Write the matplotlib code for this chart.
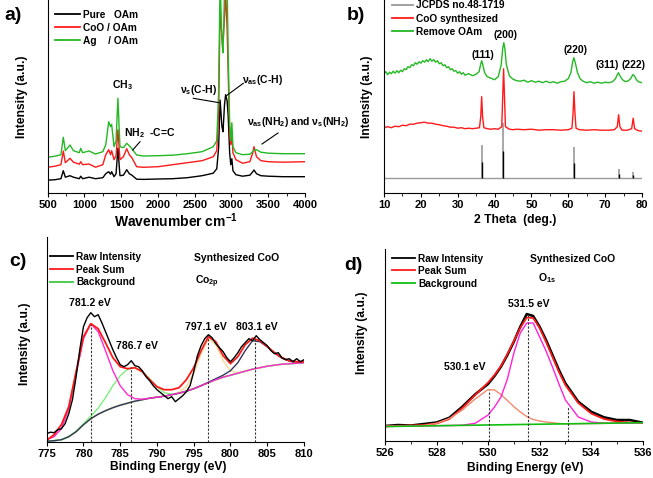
import matplotlib
matplotlib.use("Agg")
import matplotlib.pyplot as plt
import numpy as np
from matplotlib.lines import Line2D

plt.rcParams["font.family"] = "Liberation Sans"
plt.rcParams["font.weight"] = "bold"
plt.rcParams["mathtext.fontset"] = "custom"
plt.rcParams["mathtext.rm"] = "Liberation Sans:bold"
plt.rcParams["mathtext.it"] = "Liberation Sans:bold"
plt.rcParams["mathtext.bf"] = "Liberation Sans:bold"
plt.rcParams["mathtext.default"] = "regular"

# ---- a) FTIR ----
wn = [500, 600, 680, 712, 740, 803, 850, 930, 949, 975, 1062, 1150, 1250, 1290, 1330,
      1355, 1370, 1402, 1430, 1455, 1483, 1530, 1575, 1610, 1645, 1710, 1800, 2000, 2200, 2400,
      2600, 2752, 2800, 2825, 2845, 2870, 2885, 2905, 2920, 2940, 2955, 2975, 2990, 3005, 3020,
      3060, 3150, 3250, 3290, 3306, 3340, 3400, 3500, 3700, 4000]
ftir_pure = [12.5, 13, 14, 22, 15.5, 17, 15.5, 14, 16.5, 14, 15.5, 14, 15, 19, 21,
             18.5, 21, 16, 19, 44.5, 17, 17.5, 23, 19, 17.5, 13.5, 13.3, 13.7, 14, 15,
             17, 19.5, 24, 45, 92.7, 66, 61, 88, 98, 92, 77, 40, 28, 34, 22,
             18, 16.5, 17.5, 21, 22.7, 19, 17, 16.5, 16, 16]
ftir_coo = [25.4, 26.5, 28, 41.7, 30, 34.4, 30.5, 28.5, 31, 28, 28.7, 25.5, 28, 38, 43,
            38, 42, 33, 37, 63, 33, 36, 44, 38, 35, 26, 25.4, 26, 28, 30,
            32, 36, 42, 80, 184, 156, 150, 175, 200, 165, 120, 60, 48, 57, 40,
            33, 29.5, 31, 40, 46, 36, 32, 31, 30.5, 31]
ftir_ag = [35.4, 36.5, 38, 55.4, 42, 47.7, 42, 40, 44.4, 40, 41.7, 38.7, 41, 48, 71,
           66, 68.4, 46, 52, 94.4, 46, 45, 49.4, 47, 44, 37.7, 36.7, 37, 37.5, 39,
           41, 46, 52, 100, 215, 150, 140, 200, 230, 210, 140, 70, 52, 70, 46,
           40, 38, 38.5, 41, 42.7, 43, 40.5, 39.5, 39, 39]

# ---- b) XRD ----
tt_remove = [10, 10.5, 11, 11.5, 12, 12.5, 13, 13.5, 14, 14.5, 15, 15.5, 16, 16.5, 17, 17.5,
             18, 18.5, 19, 19.5, 20, 20.5, 21, 21.5, 22, 22.5, 23, 23.5, 24, 24.5, 25, 25.5,
             26, 26.5, 27, 27.5, 28, 28.5, 29, 29.5, 30, 30.5, 31, 31.5, 32, 33, 34, 35,
             35.8, 36.2, 36.5, 36.8, 37.3, 38, 39, 40, 41, 41.8, 42.2, 42.5, 42.8, 43.2, 44, 45,
             46, 47, 48, 49, 50, 51, 52, 53, 54, 55, 56, 57, 58, 59, 60, 60.7,
             61.2, 61.5, 61.9, 62.5, 63.2, 64, 65, 66, 67, 68, 69, 70, 71, 72, 72.8, 73.3,
             73.6, 74, 74.7, 75.5, 76.3, 77, 77.5, 77.9, 78.5, 79, 79.5, 80]
xrd_remove = [119, 121, 118, 120.5, 119, 121.5, 119.5, 122, 120, 122.5, 121, 124, 123, 126, 125, 128,
              127, 130, 128.5, 131, 129.5, 132, 130.5, 133, 131, 134, 131.5, 133, 130.5, 132, 129, 130,
              127, 128, 125, 126, 123, 124, 121.5, 122, 119.5, 121, 118.5, 120, 117.5, 119, 117, 118.5,
              121, 128, 132, 128, 120, 116, 114.5, 113, 116, 128, 144, 150, 144, 128, 117, 113.5,
              112, 111.5, 112.5, 110.5, 112, 110.5, 111.5, 110, 111.5, 110, 111, 109.5, 111, 111.5, 114, 120,
              131, 135, 130, 120, 114, 111.5, 110, 111, 109.5, 110.5, 109.5, 110.5, 110, 111, 114, 118,
              120, 117, 113, 111, 112, 114.5, 118, 117, 113, 111, 110.5, 110]
tt_coo = [10, 11, 12, 13, 14, 15, 16, 17, 18, 19, 20, 21, 22, 23, 24, 25,
          26, 27, 28, 29, 30, 31, 32, 33, 34, 35, 35.9, 36.25, 36.5, 36.75, 37.1, 38,
          39, 40, 41, 41.95, 42.2, 42.45, 42.7, 42.95, 44, 45, 46, 48, 50, 52,
          54, 56, 58, 60, 61, 61.3, 61.55, 61.8, 62.1, 63, 65, 67, 69, 71, 72.5,
          73.3, 73.65, 74, 74.6, 76, 77.2, 77.6, 78, 79, 80]
xrd_coo = [65, 66, 65, 66.5, 66, 67.5, 67, 68.5, 68.5, 69.5, 70, 70.5, 69.5, 69.5, 68.5, 68,
           67, 66.5, 65.5, 65.5, 64.5, 65, 64, 64.5, 64, 64.5, 65, 76, 96, 76, 65, 64,
           63.5, 64, 63.5, 66, 95, 124, 95, 66, 63.5, 63, 63.5, 63, 63.5, 62.5,
           63, 63, 62.5, 63, 64.5, 80, 101, 80, 64.5, 63, 62.5, 63, 62.5, 62.5, 63,
           66, 78, 66, 62.5, 62.5, 64, 74.5, 64, 62, 61.5]
jcpds_pos = [36.5, 42.4, 61.5, 73.7, 77.6]
jcpds_h = [33, 55, 31, 9, 6.6]
jcpds_base = 14.4

# ---- c) Co 2p XPS ----
be_co = np.arange(775, 811)
co_bg = [0.5, 1, 2, 5, 10, 17, 23, 27.5, 31, 34, 36.5, 38.5, 40.5, 42, 43.5, 44.5, 45.5, 47,
         48.5, 50.5, 53, 56, 59, 62, 64.5, 66.5, 68.5, 70.5, 72.5, 74, 75.5, 76.5, 77.5, 78, 78.5, 79]
co_p781 = [2, 5, 13, 33, 68, 103, 118, 110, 91, 71, 56, 47, 43, 42.5, 43.5, 44.5, 45.5, 47,
           48.5, 50.5, 53, 56, 59, 62, 64.5, 66.5, 68.5, 70.5, 72.5, 74, 75.5, 76.5, 77.5, 78, 78.5, 79]
co_p787 = [0.5, 1, 2, 5.2, 10.5, 18, 25.5, 33.5, 44, 56, 66, 72.5, 74, 70.5, 63, 55, 49, 47.5,
           48.5, 50.5, 53, 56, 59, 62, 64.5, 66.5, 68.5, 70.5, 72.5, 74, 75.5, 76.5, 77.5, 78, 78.5, 79]
co_p797 = [0.5, 1, 2, 5, 10, 17, 23, 27.5, 31, 34, 36.5, 38.5, 40.5, 42, 43.5, 44.5, 45.5, 47,
           49.5, 55, 68, 88, 103, 97, 81, 71, 69, 70.5, 72.5, 74, 75.5, 76.5, 77.5, 78, 78.5, 79]
co_p803 = [0.5, 1, 2, 5, 10, 17, 23, 27.5, 31, 34, 36.5, 38.5, 40.5, 42, 43.5, 44.5, 45.5, 47,
           48.5, 50.5, 53, 56, 59.5, 63, 66.5, 71, 79, 91, 101, 100, 95, 88.5, 83.5, 80.5, 79.5, 79.3]
co_sum = [1.5, 7, 17, 35, 70, 105, 118, 113, 99, 84, 75, 73, 74, 70, 62, 55, 52, 52,
          54, 62, 74, 91, 105, 100, 86, 78, 85, 97, 103.5, 101, 95, 89, 84, 81, 80, 80]
be_co_raw = np.arange(775, 810.5, 0.5)
co_raw = [8, 9.5, 9, 12, 13, 18, 28, 42, 65, 92, 115, 124, 129, 125, 127, 119,
          110, 101, 92, 84, 77, 75, 77, 81, 76, 75, 71, 65, 61, 56, 52, 49,
          46, 43, 45, 40, 43, 46, 50, 56, 70, 86, 96, 103, 107, 104, 98, 94,
          90, 84, 80, 84, 89, 95, 99, 103, 101, 106, 102, 99, 96, 91, 88, 89,
          84, 82, 83, 80, 83, 80, 82]
co_peaks = [781.0, 786.5, 796.9, 803.3]
co_peak_tops = [118, 75, 105, 103]

# ---- d) O 1s XPS ----
be_o = [526, 526.5, 527, 527.5, 528, 528.5, 529, 529.5, 530, 530.25, 530.5, 530.75, 531, 531.25,
        531.5, 531.75, 532, 532.25, 532.5, 532.75, 533, 533.5, 534, 534.5, 535, 535.5, 536]
o_raw = [15, 16, 15.5, 17, 18.5, 23.3, 34.3, 46.7, 57, 65, 74.3, 86, 99.3, 114.3,
         127, 125, 114.3, 101, 86, 71, 57.7, 39.3, 29.3, 23.7, 21, 21, 18.3]
o_sum = [15, 15.2, 15.5, 16, 17.5, 22, 33, 46, 58.5, 66, 75, 87, 100, 113,
         123.5, 123, 113, 99, 84, 69, 56, 38, 27.5, 22, 19.5, 18.5, 18]
o_p530 = [14.5, 14.7, 14.9, 15.5, 17.7, 22.5, 31, 42, 51.5, 51, 46.5, 40.5, 34.3, 29,
          24.5, 21.5, 20, 19, 18.3, 17.5, 17.2, 17.3, 17.5, 17.6, 17.8, 18, 18.2]
o_p531 = [14.5, 14.7, 14.9, 15.1, 15.3, 15.5, 15.8, 17.7, 26, 34, 44, 62, 88, 108,
          118, 118, 104, 90, 74, 57, 41, 24, 19, 17.8, 17.8, 18, 18.2]
be_o_bg = [526, 536]
o_bg = [14.5, 18.3]
o_peaks = [530.05, 531.55, 533.1]
o_peak_tops = [51, 126, 35]

RED = "#ff1a1a"
GREEN = "#25b825"

W, H = 653, 478
fig = plt.figure(figsize=(W / 100, H / 100), dpi=100)


def make_ax(x0, x1, ytop, ybot):
    ax = fig.add_axes([x0 / W, 1 - ybot / H, (x1 - x0) / W, (ybot - ytop) / H])
    ax.spines["top"].set_visible(False)
    ax.spines["right"].set_visible(False)
    ax.spines["left"].set_linewidth(0.8)
    ax.spines["bottom"].set_linewidth(0.8)
    ax.set_yticks([])
    ax.tick_params(axis="x", which="major", direction="out", length=3, width=0.8,
                   labelsize=8, pad=2)
    ax.tick_params(axis="x", which="minor", direction="out", length=2, width=0.6)
    return ax


def ftext(x, y, s, size=7.5, ha="center"):
    fig.text(x / W, 1 - y / H, s, ha=ha, va="center", fontsize=size, fontweight="bold")


def fline(x0, y0, x1, y1):
    fig.add_artist(Line2D([x0 / W, x1 / W], [1 - y0 / H, 1 - y1 / H], color="k", lw=0.8))


def labels(ax, xlabel, xlx, xly, ylx, yly, xsize=8.7):
    ax.set_xlabel(xlabel, fontsize=xsize, fontweight="bold")
    ax.xaxis.set_label_coords(xlx, xly)
    ax.set_ylabel("Intensity (a.u.)", fontsize=8.7, fontweight="bold")
    ax.yaxis.set_label_coords(ylx, yly)


def leg(ax, colors, names, x, y, hl, sp):
    handles = [Line2D([], [], color=c, lw=1.3) for c in colors]
    ax.legend(handles=handles, labels=names, loc="upper left",
              bbox_to_anchor=(x / W, 1 - y / H), bbox_transform=fig.transFigure,
              frameon=False, handlelength=hl, handletextpad=0.3, labelspacing=sp,
              borderpad=0, borderaxespad=0, prop={"weight": "bold", "size": 7.3})


# a)
ax = make_ax(47.7, 305, 0, 192.7)
ax.plot(wn, ftir_pure, color="k", lw=1.0)
ax.plot(wn, ftir_coo, color=RED, lw=1.0)
ax.plot(wn, ftir_ag, color=GREEN, lw=1.0)
ax.set_xlim(500, 4000)
ax.set_ylim(0, 192.7)
ax.set_xticks(np.arange(500, 4001, 500))
ax.set_xticks(np.arange(750, 4000, 500), minor=True)
labels(ax, "Wavenumber cm$^{-1}$", 0.5, -0.098, -0.077, 0.5, xsize=10)
leg(ax, ["k", RED, GREEN], ["Pure   OAm", "CoO / OAm", "Ag    / OAm"], 55, 9.5, 2.5, 0.32)
ftext(13, 15, "a)", size=14)
ftext(122.7, 85, "CH$_3$")
ftext(124, 133, "NH$_2$  -C=C", ha="left")
fline(140, 141.7, 132.7, 150)
ftext(198.3, 90, "ν$_s$(C-H)")
fline(193.3, 98.3, 219.3, 102.7)
ftext(262.5, 80, "ν$_{as}$(C-H)")
fline(243.3, 83.3, 226, 96)
ftext(246.7, 122, "ν$_{as}$(NH$_2$) and ν$_s$(NH$_2$)", ha="left")
fline(278, 133, 262, 144)

# b)
ax = make_ax(384, 642, 0, 192.7)
ax.hlines(jcpds_base, 10, 80, color="#9a9a9a", lw=1.0)
ax.vlines(jcpds_pos, jcpds_base, jcpds_base + np.array(jcpds_h), color="#a8a8a8", lw=1.4)
ax.vlines(jcpds_pos, jcpds_base, jcpds_base + 0.5 * np.array(jcpds_h), color="k", lw=1.0)
ax.plot(tt_coo, xrd_coo, color=RED, lw=1.0)
ax.plot(tt_remove, xrd_remove, color=GREEN, lw=1.0)
ax.set_xlim(10, 80)
ax.set_ylim(0, 192.7)
ax.set_xticks(np.arange(10, 81, 10))
ax.set_xticks(np.arange(15, 80, 10), minor=True)
labels(ax, "2 Theta  (deg.)", 0.51, -0.11, -0.044, 0.5)
leg(ax, ["#9a9a9a", RED, GREEN], ["JCPDS no.48-1719", "CoO synthesized", "Remove OAm"],
    392, 0.5, 2.1, 0.32)
ftext(356, 15, "b)", size=14)
ftext(482.7, 55, "(111)")
ftext(505, 35, "(200)")
ftext(575, 50, "(220)")
ftext(606.7, 65, "(311)")
ftext(633.3, 65, "(222)")

# c)
ax = make_ax(46.7, 304, 237, 441.7)
ax.plot(be_co, co_bg, color="#66e066", lw=1.2)
ax.plot(be_co, co_p797, color="#f3dfa6", lw=1.2)
ax.plot(be_co, co_p787, color="#7cf07c", lw=1.0)
ax.plot(be_co, co_p803, color="#34345e", lw=1.0)
ax.plot(be_co, co_p781, color="#ff2ad0", lw=1.0)
ax.plot(be_co, co_sum, color=RED, lw=1.3)
ax.plot(be_co_raw, co_raw, color="k", lw=1.0)
ax.vlines(co_peaks, 0, co_peak_tops, colors="#333333", lw=0.8, linestyles=(0, (2, 1.5)))
ax.set_xlim(775, 810)
ax.set_ylim(0, 204.7)
ax.set_xticks(np.arange(775, 811, 5))
labels(ax, "Binding Energy (eV)", 0.473, -0.093, -0.061, 0.48)
leg(ax, ["k", RED, "#40c840"], ["Raw Intensity", "Peak Sum", "Background"], 50, 252, 2.3, 0.25)
ftext(17.5, 262, "c)", size=14)
ftext(90, 303.3, "781.2 eV")
ftext(136.7, 346, "786.7 eV")
ftext(205.5, 326.5, "797.1 eV")
ftext(256.7, 326.5, "803.1 eV")
ftext(236.7, 257.7, "Synthesized CoO")
ftext(195, 281.7, "Co$_{2p}$", ha="left")

# d)
ax = make_ax(385, 642.7, 249, 441)
ax.plot(be_o, o_raw, color="k", lw=1.8)
ax.plot(be_o, o_sum, color=RED, lw=1.3)
ax.plot(be_o, o_p530, color="#f08a6c", lw=1.0)
ax.plot(be_o, o_p531, color="#ff22d8", lw=1.0)
ax.plot(be_o_bg, o_bg, color="#10c010", lw=1.2)
ax.vlines(o_peaks, 0, o_peak_tops, colors="#333333", lw=0.8, linestyles=(0, (2, 1.5)))
ax.set_xlim(526, 536)
ax.set_ylim(0, 192)
ax.set_xticks(np.arange(526, 537, 2))
ax.set_xticks(np.arange(527, 536, 2), minor=True)
labels(ax, "Binding Energy (eV)", 0.545, -0.109, -0.067, 0.565)
leg(ax, ["k", RED, "#10c010"], ["Raw Intensity", "Peak Sum", "Background"], 392, 253.5, 2.3, 0.25)
ftext(353, 265, "d)", size=14)
ftext(528.3, 304.3, "531.5 eV")
ftext(465, 366.7, "530.1 eV")
ftext(572.3, 259.3, "Synthesized CoO")
ftext(538, 278.3, "O$_{1s}$", ha="left")

fig.savefig("out.png", dpi=100)
